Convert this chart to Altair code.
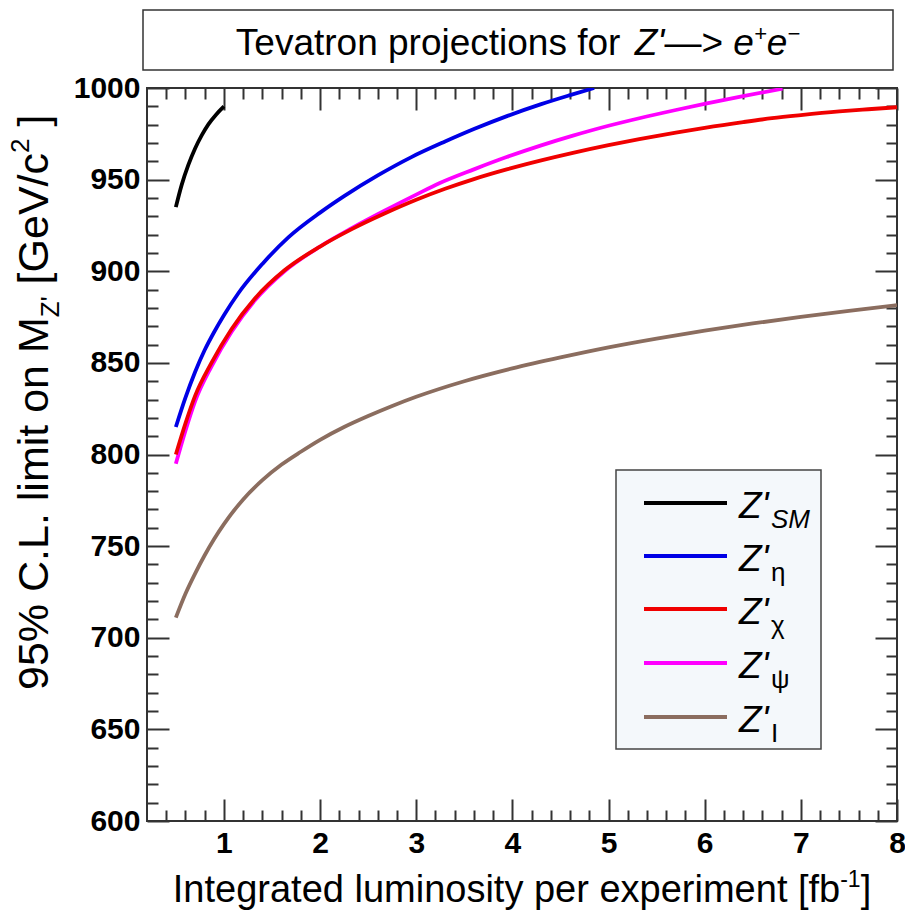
import altair as alt
import pandas as pd

# ---------------- data ----------------
lumi_sm = [0.5, 0.56, 0.63, 0.7, 0.77, 0.84, 0.92, 1.0]
mass_sm = [935, 947, 958, 967, 974.3, 980.3, 985.6, 990]

lumi_eta = [0.5, 0.6, 0.7, 0.8, 0.9, 1.0, 1.15, 1.4, 1.67, 2.0, 2.25, 2.6, 2.95,
            3.3, 3.6, 3.95, 4.3, 4.6, 4.85]
mass_eta = [815, 831, 845, 857, 867, 876, 888, 904, 918.5, 932, 941, 952.3, 962.3,
            970.8, 977.6, 984.8, 991.2, 996.1, 1000]

lumi_chi = [0.5, 0.6, 0.7, 0.87, 1.08, 1.32, 1.63, 2.0, 2.33, 2.67, 3.0, 3.3, 3.6,
            3.95, 4.3, 4.63, 5.0, 5.32, 5.7, 6.0, 6.4, 6.7, 7.0, 7.4, 7.7, 8.0]
mass_chi = [800, 817, 832, 850, 868.5, 885, 900.5, 913.5, 923, 931.5, 939, 945, 950.3,
            955.7, 960.5, 964.6, 968.8, 972.1, 975.7, 978.3, 981.4, 983.5, 985.2, 987.2, 988.4, 989.5]

lumi_psi = [0.5, 0.6, 0.7, 0.87, 1.08, 1.32, 1.63, 2.0, 2.33, 2.67, 3.0, 3.24, 3.6,
            3.94, 4.3, 4.63, 5.0, 5.32, 5.7, 6.01, 6.4, 6.81]
mass_psi = [795, 813, 829, 848, 867, 884, 900, 913.5, 923.5, 933, 941.8, 948, 955.6,
            962.3, 968.7, 974.0, 979.4, 983.5, 988.0, 991.5, 995.6, 999.6]

lumi_i = [0.5, 0.6, 0.7, 0.8, 0.9, 1.0, 1.2, 1.4, 1.6, 1.8, 2.0, 2.25, 2.5, 2.75,
          3.0, 3.5, 4.0, 4.5, 5.0, 5.5, 6.0, 6.5, 7.0, 7.5, 8.0]
mass_i = [711, 724, 735, 745, 754, 762, 775.5, 786, 794.5, 801.5, 808, 815, 821, 826.5,
          831.5, 840, 847, 853, 858.5, 863.3, 867.6, 871.5, 875.1, 878.4, 881.5]

model_names = ["SM", "eta", "chi", "psi", "I"]
model_subs = ["SM", "η", "χ", "ψ", "I"]
model_colors = ["#000000", "#0000e6", "#f00000", "#ff00ff", "#8b6d5f"]

x_major = [1, 2, 3, 4, 5, 6, 7, 8]
y_major = [600, 650, 700, 750, 800, 850, 900, 950, 1000]
x_minor = [round(0.2 * i, 1) for i in range(2, 40) if i % 5 != 0]
y_minor = [v for v in range(610, 1000, 10) if v % 50 != 0]

title_text = "Tevatron projections for"
x_title_text = "Integrated luminosity per experiment [fb"
y_title_text = "95% C.L. limit on M"

series = {
    "SM": (lumi_sm, mass_sm),
    "eta": (lumi_eta, mass_eta),
    "chi": (lumi_chi, mass_chi),
    "psi": (lumi_psi, mass_psi),
    "I": (lumi_i, mass_i),
}

def frame(name):
    xs_, ys_ = series[name]
    return pd.DataFrame({"lumi": xs_, "mass": ys_, "model": name})

df_all = pd.concat([frame(n) for n in model_names], ignore_index=True)

# ---------------- layout / style ----------------
W, H = 750, 733
FONT = "Liberation Sans"
TICK = "#333333"
xsc = alt.Scale(domain=[0.2, 8], nice=False, zero=False)
ysc = alt.Scale(domain=[600, 1000], nice=False, zero=False)

# Helvetica/Arial advance widths (per em) for laying out rich text pieces
WID = {" ": .278, "%": .889, "'": .191, ".": .278, "/": .278, "[": .278, "]": .278,
       "—": 1.0, ">": .584, "+": .584, "−": .584, "-": .333,
       "C": .722, "G": .778, "I": .278, "L": .556, "M": .833, "T": .611, "V": .667, "Z": .611,
       "a": .556, "b": .556, "c": .5, "d": .556, "e": .556, "f": .278, "g": .556, "i": .222,
       "j": .222, "l": .222, "m": .833, "n": .556, "o": .556, "p": .556, "r": .333, "s": .5,
       "t": .278, "u": .556, "v": .5, "x": .5, "y": .5}

def tw(s, size):
    return sum(WID.get(c, .556) for c in s) * size

dummy = pd.DataFrame({"a": [0]})

def txt(s, x, y, size, style="normal", angle=0, align="left", weight="normal"):
    return alt.Chart(dummy).mark_text(
        align=align, baseline="alphabetic", font=FONT, fontSize=size,
        fontStyle=style, fontWeight=weight, color="black", angle=angle
    ).encode(x=alt.value(x), y=alt.value(y), text=alt.value(s))

# pieces: (text, size, style, shift); text " " is a pure gap (not drawn)
def hrun(pieces, x0, y0):
    out, pos = [], x0
    for s, size, style, dy in pieces:
        if s.strip():
            out.append(txt(s, pos, y0 + dy, size, style))
        pos += tw(s, size)
    return out

def hwidth(pieces):
    return sum(tw(s, size) for s, size, _, _ in pieces)

def vrun(pieces, x0, y0):
    out, pos = [], y0
    for s, size, style, dx in pieces:
        if s.strip():
            out.append(txt(s, x0 + dx, pos, size, style, angle=270))
        pos -= tw(s, size)
    return out

def ax(orient, values, length, labels=False):
    kw = dict(orient=orient, values=values, offset=-length, tickSize=length,
              tickWidth=2, tickColor=TICK, domain=False, grid=False, title=None,
              labels=labels)
    if labels:
        kw.update(labelFont=FONT, labelFontWeight="bold", labelFontSize=30,
                  labelColor="black", labelFlush=False, labelBound=False,
                  labelOverlap=False, labelPadding=7, format="d")
    return alt.Axis(**kw)

def carrier(xaxis, yaxis):
    return alt.Chart(df_all).mark_point(opacity=0, size=1).encode(
        x=alt.X("lumi:Q", scale=xsc, axis=xaxis),
        y=alt.Y("mass:Q", scale=ysc, axis=yaxis))

layers = [
    carrier(ax("bottom", x_major, 22, True), ax("left", y_major, 22, True)),
    carrier(ax("bottom", x_minor, 11), ax("left", y_minor, 11)),
    carrier(ax("top", x_major, 22), ax("right", y_major, 22)),
    carrier(ax("top", x_minor, 11), ax("right", y_minor, 11)),
]

# curves (drawing order: I, psi, chi, eta, SM)
for name in ["I", "psi", "chi", "eta", "SM"]:
    col = model_colors[model_names.index(name)]
    layers.append(
        alt.Chart(frame(name)).mark_line(strokeWidth=3.8, clip=True, color=col,
                                         interpolate="monotone").encode(
            x=alt.X("lumi:Q", scale=xsc, axis=None),
            y=alt.Y("mass:Q", scale=ysc, axis=None)))

# legend
LX0, LX1, LY0, LY1 = 469, 674, 382, 661
layers.append(alt.Chart(dummy).mark_rect(fill="#f4f8fb", stroke="#444444", strokeWidth=1.5).encode(
    x=alt.value(LX0), x2=alt.value(LX1), y=alt.value(LY0), y2=alt.value(LY1)))
row_y = [415, 468, 521, 575, 629]
for i, name in enumerate(model_names):
    yy = row_y[i]
    layers.append(alt.Chart(dummy).mark_rule(strokeWidth=3.8, color=model_colors[i]).encode(
        x=alt.value(497), x2=alt.value(580), y=alt.value(yy)))
    layers.append(txt("Z'", 592, yy + 15, 37, "italic"))
    sub_style = "italic" if model_subs[i] == "SM" else "normal"
    layers.append(txt(model_subs[i], 624, yy + 25, 26, sub_style))

# title box
layers.append(alt.Chart(dummy).mark_rect(fill="white", stroke="#333333", strokeWidth=1.5).encode(
    x=alt.value(-4), x2=alt.value(746), y=alt.value(-78), y2=alt.value(-18)))
tpieces = [(title_text, 37, "normal", 0), (" ", 37, "normal", 0), ("Z'", 37, "italic", 0),
           ("—>", 37, "normal", 0), (" ", 37, "normal", 0),
           ("e", 37, "italic", 0), ("+", 22, "italic", -14), ("e", 37, "italic", 0),
           ("−", 22, "italic", -14)]
layers += hrun(tpieces, 371 - hwidth(tpieces) / 2, -33)

# x title
xpieces = [(x_title_text, 38, "normal", 0), ("-1", 23, "normal", -15), ("]", 38, "normal", 0)]
layers += hrun(xpieces, W / 2 - hwidth(xpieces) / 2, H + 81)

# y title (rotated, reads upward)
ypieces = [(y_title_text, 43, "normal", 0), ("Z'", 26, "normal", 11), (" ", 43, "normal", 0),
           ("[GeV/c", 43, "normal", 0), ("2", 26, "normal", -19), (" ", 43, "normal", 0),
           ("]", 43, "normal", 0)]
layers += vrun(ypieces, -99, 602)

chart = alt.layer(*layers).resolve_axis(x="independent", y="independent").properties(
    width=W, height=H,
    autosize=alt.AutoSizeParams(type="none"),
    padding={"left": 147, "top": 88, "right": 8, "bottom": 90},
    background="white",
).configure_view(stroke="#333333", strokeWidth=2)

chart.save("out.html", embed_options={"renderer": "svg", "actions": False})
